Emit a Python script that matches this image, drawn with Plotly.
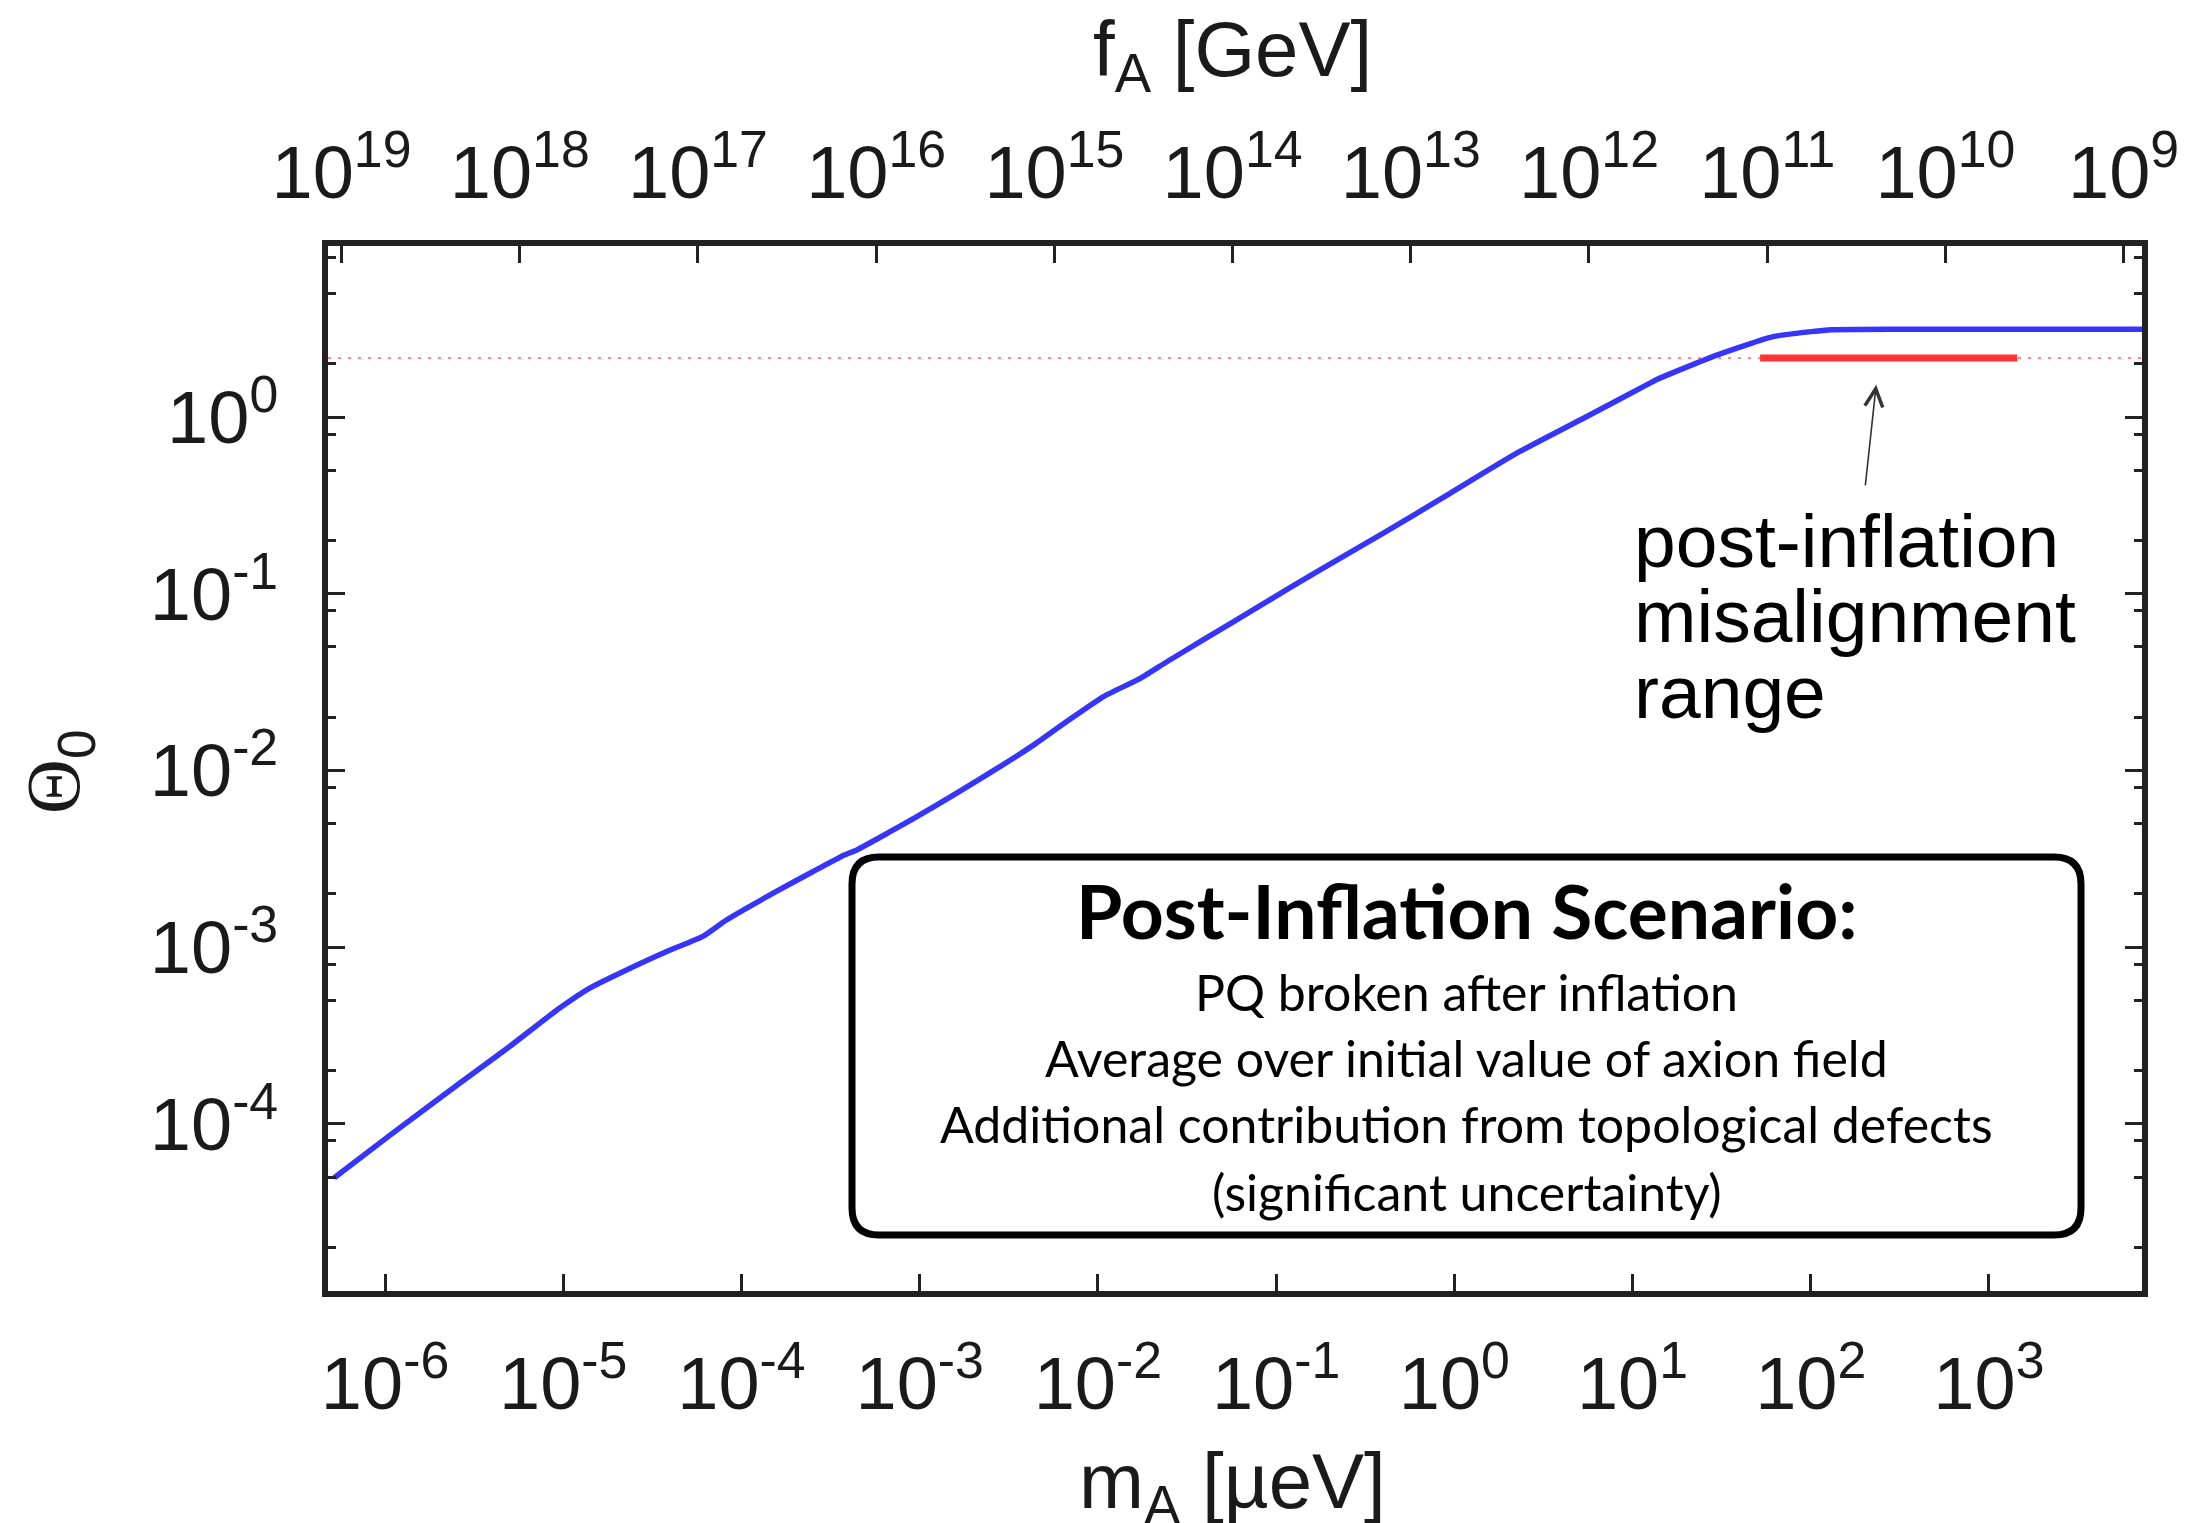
import numpy as np
import plotly.graph_objects as go

# ---------------- data ----------------
m_A = [5.19e-7, 1.10e-6, 2.61e-6, 4.98e-6, 9.51e-6, 1.40e-5, 2.16e-5, 3.78e-5,
       6.07e-5, 8.20e-5, 1.56e-4, 2.51e-4, 3.78e-4, 4.44e-4, 9.64e-4, 2.82e-3,
       4.35e-3, 6.68e-3, 1.07e-2, 1.73e-2, 2.44e-2, 3.75e-2, 8.87e-2, 0.169,
       0.400, 0.946, 2.24, 5.31, 12.0, 13.7, 29.7, 61.5, 106, 130, 300, 7500]
theta0 = [4.95e-5, 8.83e-5, 1.69e-4, 2.73e-4, 4.51e-4, 5.85e-4, 7.26e-4, 9.42e-4,
          1.15e-3, 1.42e-3, 2.06e-3, 2.67e-3, 3.32e-3, 3.55e-3, 5.47e-3, 1.05e-2,
          1.39e-2, 1.89e-2, 2.61e-2, 3.32e-2, 4.12e-2, 5.35e-2, 9.02e-2, 0.133,
          0.220, 0.370, 0.624, 0.984, 1.52, 1.63, 2.24, 2.85, 3.06, 3.12, 3.14, 3.14]

range_m = [52, 1440]          # post-inflation misalignment range (m_A, µeV)
theta_range = [2.155, 2.155]
theta_avg = 2.155             # dotted reference level
arrow_head = (233, 1.52)      # arrow tip (m_A, theta)

x_ticks = [1e-6, 1e-5, 1e-4, 1e-3, 1e-2, 1e-1, 1, 10, 100, 1000]
x_ticktext = ["10<sup>-6</sup>", "10<sup>-5</sup>", "10<sup>-4</sup>", "10<sup>-3</sup>",
              "10<sup>-2</sup>", "10<sup>-1</sup>", "10<sup>0</sup>", "10<sup>1</sup>",
              "10<sup>2</sup>", "10<sup>3</sup>"]
fA_exponents = [19, 18, 17, 16, 15, 14, 13, 12, 11, 10, 9]
fA_ticks = [5.7 * 10 ** (12 - k) for k in fA_exponents]   # m_A = 5.7 µeV (1e12 GeV / f_A)
fA_ticktext = ["10<sup>%d</sup>" % k for k in fA_exponents]
y_ticks = [1e-4, 1e-3, 1e-2, 1e-1, 1]
y_ticktext = ["10<sup>-4</sup>", "10<sup>-3</sup>", "10<sup>-2</sup>", "10<sup>-1</sup>", "10<sup>0</sup>"]
y_minor = [a * 10.0 ** k for k in range(-5, 1) for a in (2, 5, 8)]

box_title = "Post-Inflation Scenario:"
box_lines = ["PQ broken after inflation",
             "Average over initial value of axion field",
             "Additional contribution from topological defects",
             "(significant uncertainty)"]
label_lines = ["post-inflation", "misalignment", "range"]

# ---------------- layout geometry ----------------
W, H = 2201, 1523
L, R, T, B = 328, 2142, 246, 1291
PW, PH = R - L, B - T


def px(xp):
    return (xp - L) / PW


def py(yp):
    return (B - yp) / PH


XR = [-6.320, 3.859]
YR = [-4.946, 0.9677]

AX = "#222222"
TXT = "#1a1a1a"
SANS = "Liberation Sans"
TICKFONT = dict(family=SANS, size=74, color=TXT)

fig = go.Figure()

fig.add_trace(go.Scatter(x=m_A, y=theta0, mode="lines",
                         line=dict(color="#3535ff", width=5.5, shape="spline", smoothing=0.5),
                         showlegend=False, hoverinfo="skip"))
fig.add_trace(go.Scatter(x=range_m, y=theta_range, mode="lines",
                         line=dict(color="#ff3333", width=7),
                         showlegend=False, hoverinfo="skip"))
# empty trace to activate top axis
fig.add_trace(go.Scatter(x=[], y=[], xaxis="x2", yaxis="y", showlegend=False,
                         hoverinfo="skip"))

# dotted horizontal reference line
fig.add_shape(type="line", xref="paper", x0=0, x1=1, yref="y",
              y0=theta_avg, y1=theta_avg, layer="below",
              line=dict(color="#ff6060", width=1.5, dash="3px,7px"))

# rounded box
bx0, bx1, by0, by1, rad = 852, 2081, 857, 1235, 27
rx, ry = rad / PW, rad / PH
X0, X1, Y0, Y1 = px(bx0), px(bx1), py(by1), py(by0)
path = (f"M{X0+rx},{Y1} L{X1-rx},{Y1} Q{X1},{Y1} {X1},{Y1-ry} "
        f"L{X1},{Y0+ry} Q{X1},{Y0} {X1-rx},{Y0} L{X0+rx},{Y0} "
        f"Q{X0},{Y0} {X0},{Y0+ry} L{X0},{Y1-ry} Q{X0},{Y1} {X0+rx},{Y1} Z")
fig.add_shape(type="path", xref="paper", yref="paper", path=path,
              line=dict(color="black", width=7), fillcolor="white", layer="above")

ann = []
cx = px((bx0 + bx1) / 2)
ann.append(dict(text="<b>" + box_title + "</b>", x=cx, y=py(910), xref="paper", yref="paper",
                xanchor="center", yanchor="middle", showarrow=False,
                font=dict(family="Lato", size=75, color="black")))
for txt, yc in zip(box_lines, [992, 1058, 1124, 1192]):
    ann.append(dict(text=txt, x=cx, y=py(yc), xref="paper", yref="paper",
                    xanchor="center", yanchor="middle", showarrow=False,
                    font=dict(family="Lato", size=50, color="black")))

for txt, yc in zip(label_lines, [541, 616, 692]):
    ann.append(dict(text=txt, x=px(1632), y=py(yc), xref="paper", yref="paper",
                    xanchor="left", yanchor="middle", showarrow=False,
                    font=dict(family=SANS, size=75, color="black")))

# arrow
ann.append(dict(text="", x=np.log10(arrow_head[0]), y=np.log10(arrow_head[1]),
                xref="x", yref="y", showarrow=True, ax=-11, ay=102,
                axref="pixel", ayref="pixel", arrowhead=5, arrowsize=2.2,
                arrowwidth=1.6, arrowcolor="#333333"))

# axis titles
ann.append(dict(text="f<sub>A</sub> [GeV]", x=px(1232), y=py(55), xref="paper", yref="paper",
                xanchor="center", yanchor="middle", showarrow=False,
                font=dict(family=SANS, size=78, color=TXT)))
ann.append(dict(text="m<sub>A</sub> [µeV]", x=px(1232), y=py(1486), xref="paper", yref="paper",
                xanchor="center", yanchor="middle", showarrow=False,
                font=dict(family=SANS, size=78, color=TXT)))
ann.append(dict(text='<span style="font-family:Liberation Serif">Θ</span><sub>0</sub>',
                x=px(58), y=py(772), xref="paper", yref="paper", textangle=-90,
                xanchor="center", yanchor="middle", showarrow=False,
                font=dict(family=SANS, size=76, color=TXT)))

fig.update_layout(
    width=W, height=H,
    margin=dict(l=L, r=W - R, t=T, b=H - B, pad=0),
    paper_bgcolor="white", plot_bgcolor="white",
    showlegend=False,
    annotations=ann,
    xaxis=dict(type="log", range=XR, showgrid=False, zeroline=False,
               showline=True, linewidth=6, linecolor=AX, mirror=True,
               ticks="inside", ticklen=17, tickwidth=2.5, tickcolor=AX,
               tickmode="array", tickvals=x_ticks, ticktext=x_ticktext,
               tickfont=TICKFONT, ticklabelstandoff=23),
    xaxis2=dict(type="log", range=XR, overlaying="x", side="top", anchor="y",
                showgrid=False, zeroline=False, showline=False,
                ticks="inside", ticklen=17, tickwidth=2.5, tickcolor=AX,
                tickmode="array", tickvals=fA_ticks, ticktext=fA_ticktext,
                tickfont=TICKFONT, ticklabelstandoff=32),
    yaxis=dict(type="log", range=YR, showgrid=False, zeroline=False,
               showline=True, linewidth=6, linecolor=AX, mirror="ticks",
               ticks="inside", ticklen=17, tickwidth=2.5, tickcolor=AX,
               tickmode="array", tickvals=y_ticks, ticktext=y_ticktext,
               tickfont=TICKFONT, ticklabelstandoff=29,
               minor=dict(tickmode="array", tickvals=y_minor, ticks="inside",
                          ticklen=8, tickwidth=2.5, tickcolor=AX, showgrid=False)),
)

fig.write_html("out.html")
